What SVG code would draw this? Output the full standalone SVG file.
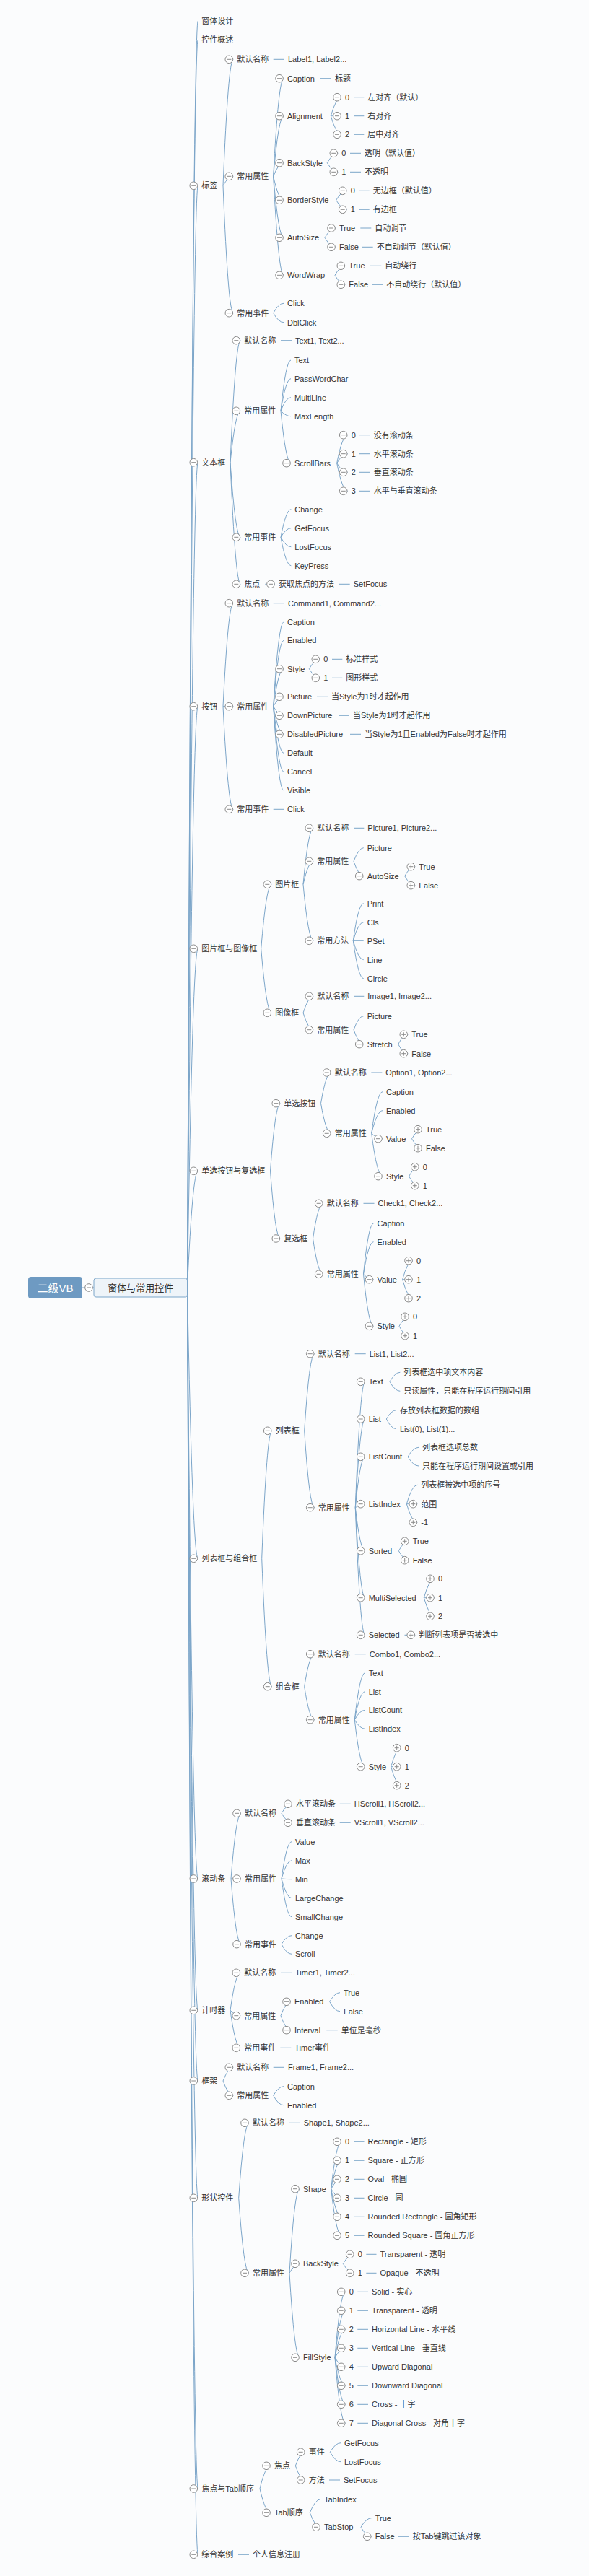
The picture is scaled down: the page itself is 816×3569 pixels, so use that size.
<svg xmlns="http://www.w3.org/2000/svg" width="816" height="3569" viewBox="0 0 816 3569">
<style>
.t{font-family:"Liberation Sans","Noto Sans CJK SC",sans-serif;font-size:11px;fill:#333;dominant-baseline:central}
.rt{font-family:"Liberation Sans","Noto Sans CJK SC",sans-serif;font-size:15px;fill:#fff;dominant-baseline:central}
.mt{font-family:"Liberation Sans","Noto Sans CJK SC",sans-serif;font-size:13px;fill:#333;dominant-baseline:central}
.c{fill:none;stroke:#7ba5c9;stroke-width:1}
.b{fill:#fff;stroke:#8a8a8a;stroke-width:1}
.bl{fill:none;stroke:#8a8a8a;stroke-width:1}
</style>
<defs>
<g id="m"><circle r="5.3" class="b"/><path d="M-3 0H3" class="bl"/></g>
<g id="p"><circle r="5.3" class="b"/><path d="M-3 0H3M0-3V3" class="bl"/></g>
</defs>
<rect width="816" height="3569" fill="#fbfcfd"/>
<g id="connectors">
<path class="c" d="M114 1784H130"/>
<path class="c" d="M259.5 1784Q266.9 29 274.3 29M259.5 1784Q266.9 55 274.3 55M259.5 1784Q266.9 257.3 274.3 257.3M259.5 1784Q266.9 640.7 274.3 640.7M259.5 1784Q266.9 978.7 274.3 978.7M259.5 1784Q266.9 1314.3 274.3 1314.3M259.5 1784Q266.9 1622.3 274.3 1622.3M259.5 1784Q266.9 2159.3 274.3 2159.3M259.5 1784Q266.9 2603 274.3 2603M259.5 1784Q266.9 2785.3 274.3 2785.3M259.5 1784Q266.9 2883 274.3 2883M259.5 1784Q266.9 3045.3 274.3 3045.3M259.5 1784Q266.9 3448 274.3 3448M259.5 1784Q266.9 3539.3 274.3 3539.3"/>
<!-- 标签 -->
<path class="c" d="M309 257.3Q316.2 82.3 323.3 82.3M309 257.3Q316.2 244.3 323.3 244.3M309 257.3Q316.2 433.7 323.3 433.7"/>
<path class="c" d="M378.7 82.3H394"/>
<path class="c" d="M378.7 244.3Q385.9 108.7 393 108.7M378.7 244.3Q385.9 160.7 393 160.7M378.7 244.3Q385.9 225.7 393 225.7M378.7 244.3Q385.9 277.3 393 277.3M378.7 244.3Q385.9 329.3 393 329.3M378.7 244.3Q385.9 381.3 393 381.3"/>
<path class="c" d="M443.5 108.7H459"/>
<path class="c" d="M458.3 160.7Q465.7 134.7 473 134.7M458.3 160.7H473M458.3 160.7Q465.7 186.3 473 186.3M490 134.7H504.3M490 160.7H504.3M490 186.3H504.3"/>
<path class="c" d="M453.3 225.7Q460.8 212.3 468.3 212.3M453.3 225.7Q460.8 238.3 468.3 238.3M485 212.3H500M485 238.3H500"/>
<path class="c" d="M465.7 277.3Q473.2 264.3 480.7 264.3M465.7 277.3Q473.2 290.3 480.7 290.3M497.7 264.3H511.7M497.7 290.3H511.7"/>
<path class="c" d="M450 329.3Q457.5 316 465 316M450 329.3Q457.5 342.3 465 342.3M499.3 316H514.3M501.7 342.3H516.7"/>
<path class="c" d="M464 381.3Q471.2 368.3 478.3 368.3M464 381.3Q471.2 394.3 478.3 394.3M513 368.3H528.3M515.3 394.3H530.3"/>
<path class="c" d="M378.7 433.7Q385.9 420.3 393 420.3M378.7 433.7Q385.9 446.7 393 446.7"/>
<!-- 文本框 -->
<path class="c" d="M319 640.7Q326.2 471.7 333.3 471.7M319 640.7Q326.2 569.3 333.3 569.3M319 640.7Q326.2 744.3 333.3 744.3M319 640.7Q326.2 809.3 333.3 809.3"/>
<path class="c" d="M389 471.7H404"/>
<path class="c" d="M389 569.3Q396 499 403 499M389 569.3Q396 524.7 403 524.7M389 569.3Q396 550.7 403 550.7M389 569.3Q396 576.7 403 576.7M389 569.3Q396 641.7 403 641.7"/>
<path class="c" d="M466.7 641.7Q474.2 602.7 481.7 602.7M466.7 641.7Q474.2 628.7 481.7 628.7M466.7 641.7Q474.2 654.3 481.7 654.3M466.7 641.7Q474.2 680.3 481.7 680.3M497.7 602.7H512.7M497.7 628.7H512.7M497.7 654.3H512.7M497.7 680.3H512.7"/>
<path class="c" d="M389 744.3Q396.2 705.7 403.3 705.7M389 744.3Q396.2 731.7 403.3 731.7M389 744.3Q396.2 757.7 403.3 757.7M389 744.3Q396.2 783.7 403.3 783.7"/>
<path class="c" d="M367.3 809.3H381M470 809.3H484.7"/>
<!-- 按钮 -->
<path class="c" d="M309 978.7Q316.2 835.7 323.3 835.7M309 978.7H323.3M309 978.7Q316.2 1121.3 323.3 1121.3"/>
<path class="c" d="M378.7 835.7H394"/>
<path class="c" d="M378.7 978.7Q385.9 861.7 393 861.7M378.7 978.7Q385.9 887.3 393 887.3M378.7 978.7Q385.9 926.7 393 926.7M378.7 978.7Q385.9 965.3 393 965.3M378.7 978.7Q385.9 991.3 393 991.3M378.7 978.7Q385.9 1017.3 393 1017.3M378.7 978.7Q385.9 1043.3 393 1043.3M378.7 978.7Q385.9 1069.3 393 1069.3M378.7 978.7Q385.9 1095.3 393 1095.3"/>
<path class="c" d="M428.3 926.7Q435.8 913.3 443.3 913.3M428.3 926.7Q435.8 939.3 443.3 939.3M460 913.3H474.3M460 939.3H474.3"/>
<path class="c" d="M439 965.3H454M469 991.3H484M485 1017.3H500"/>
<path class="c" d="M378.7 1121.3H393"/>
<!-- 图片框与图像框 -->
<path class="c" d="M361.7 1314.3Q369 1225.3 376.3 1225.3M361.7 1314.3Q369 1403.3 376.3 1403.3"/>
<path class="c" d="M420 1225.3Q427.2 1147.3 434.3 1147.3M420 1225.3Q427.2 1193.3 434.3 1193.3M420 1225.3Q427.2 1303.3 434.3 1303.3"/>
<path class="c" d="M490 1147.3H504.3"/>
<path class="c" d="M490 1193.3Q496.9 1174.7 503.7 1174.7M490 1193.3Q496.9 1213.7 503.7 1213.7"/>
<path class="c" d="M560.7 1213.7Q568 1200.7 575.3 1200.7M560.7 1213.7Q568 1226.7 575.3 1226.7"/>
<path class="c" d="M489.3 1303.3Q496.5 1251.7 503.7 1251.7M489.3 1303.3Q496.5 1277.7 503.7 1277.7M489.3 1303.3H503.7M489.3 1303.3Q496.5 1329.7 503.7 1329.7M489.3 1303.3Q496.5 1355.7 503.7 1355.7"/>
<path class="c" d="M420 1403.3Q427.2 1380.3 434.3 1380.3M420 1403.3Q427.2 1426.7 434.3 1426.7"/>
<path class="c" d="M490 1380.3H504.3"/>
<path class="c" d="M490 1426.7Q496.9 1407.7 503.7 1407.7M490 1426.7Q496.9 1446.7 503.7 1446.7"/>
<path class="c" d="M551.7 1446.7Q558.5 1433.3 565.3 1433.3M551.7 1446.7Q558.5 1459.7 565.3 1459.7"/>
<!-- 单选按钮与复选框 -->
<path class="c" d="M374.5 1622.3Q381.4 1528.7 388.3 1528.7M374.5 1622.3Q381.4 1716 388.3 1716"/>
<path class="c" d="M444.5 1528.7Q451.6 1486 458.7 1486M444.5 1528.7Q451.6 1570.3 458.7 1570.3"/>
<path class="c" d="M514.3 1486H529.3"/>
<path class="c" d="M514.7 1570.3Q522.4 1512.7 530 1512.7M514.7 1570.3Q522.4 1538.7 530 1538.7M514.7 1570.3Q522.4 1577.7 530 1577.7M514.7 1570.3Q522.4 1629.7 530 1629.7"/>
<path class="c" d="M570.5 1577.7Q577.8 1564.7 585 1564.7M570.5 1577.7Q577.8 1590.7 585 1590.7"/>
<path class="c" d="M566.5 1629.7Q573.7 1616.7 580.8 1616.7M566.5 1629.7Q573.7 1642.7 580.8 1642.7"/>
<path class="c" d="M433.5 1716Q440.6 1667.3 447.7 1667.3M433.5 1716Q440.6 1765.3 447.7 1765.3"/>
<path class="c" d="M503.5 1667.3H518.5"/>
<path class="c" d="M503.5 1765.3Q510.5 1695 517.5 1695M503.5 1765.3Q510.5 1720.7 517.5 1720.7M503.5 1765.3Q510.5 1772.7 517.5 1772.7M503.5 1765.3Q510.5 1837.3 517.5 1837.3"/>
<path class="c" d="M557.6 1772.7Q564.8 1746.7 572 1746.7M557.6 1772.7H572M557.6 1772.7Q564.8 1798.7 572 1798.7"/>
<path class="c" d="M553 1837.3Q560 1824.3 567 1824.3M553 1837.3Q560 1850.7 567 1850.7"/>
<!-- 列表框与组合框 -->
<path class="c" d="M362.7 2159.3Q369.7 1982.3 376.7 1982.3M362.7 2159.3Q369.7 2336.7 376.7 2336.7"/>
<path class="c" d="M421.7 1982.3Q428.7 1875.7 435.7 1875.7M421.7 1982.3Q428.7 2088.7 435.7 2088.7"/>
<path class="c" d="M491.7 1875.7H506.7"/>
<path class="c" d="M492.3 2088.7Q499 1914.3 505.7 1914.3M492.3 2088.7Q499 1966 505.7 1966M492.3 2088.7Q499 2018.3 505.7 2018.3M492.3 2088.7Q499 2083.7 505.7 2083.7M492.3 2088.7Q499 2148.7 505.7 2148.7M492.3 2088.7Q499 2213.7 505.7 2213.7M492.3 2088.7Q499 2265.3 505.7 2265.3"/>
<path class="c" d="M540 1914.3Q547.2 1901.3 554.3 1901.3M540 1914.3Q547.2 1927.3 554.3 1927.3"/>
<path class="c" d="M535.3 1966Q542.2 1953.7 549 1953.7M535.3 1966Q542.2 1979.7 549 1979.7"/>
<path class="c" d="M565 2018.3Q572.5 2005.3 580 2005.3M565 2018.3Q572.5 2031 580 2031"/>
<path class="c" d="M563.3 2083.7Q570.8 2057.3 578.3 2057.3M563.3 2083.7H578.3M563.3 2083.7Q570.8 2109.3 578.3 2109.3"/>
<path class="c" d="M552.3 2148.7Q559.5 2135.3 566.7 2135.3M552.3 2148.7Q559.5 2161.7 566.7 2161.7"/>
<path class="c" d="M587.3 2213.7Q594.7 2187.3 602 2187.3M587.3 2213.7H602M587.3 2213.7Q594.7 2239.3 602 2239.3"/>
<path class="c" d="M560.5 2265.3H575.3"/>
<path class="c" d="M421.7 2336.7Q428.7 2291.7 435.7 2291.7M421.7 2336.7Q428.7 2382.7 435.7 2382.7"/>
<path class="c" d="M491.7 2291.7H506.7"/>
<path class="c" d="M491.3 2382.7Q498.5 2317.7 505.7 2317.7M491.3 2382.7Q498.5 2343.7 505.7 2343.7M491.3 2382.7Q498.5 2369.3 505.7 2369.3M491.3 2382.7Q498.5 2395.3 505.7 2395.3M491.3 2382.7Q498.5 2447.7 505.7 2447.7"/>
<path class="c" d="M541.7 2447.7Q548.7 2421.7 555.7 2421.7M541.7 2447.7H555.7M541.7 2447.7Q548.7 2473.7 555.7 2473.7"/>
<!-- 滚动条 -->
<path class="c" d="M320 2603Q327 2512.3 334 2512.3M320 2603H334M320 2603Q327 2693.7 334 2693.7"/>
<path class="c" d="M390 2512.3Q397.5 2499.3 405 2499.3M390 2512.3Q397.5 2525.3 405 2525.3M470.7 2499.3H485.7M470.7 2525.3H485.7"/>
<path class="c" d="M390 2603Q397 2551.7 404 2551.7M390 2603Q397 2577.7 404 2577.7M390 2603Q397 2603.7 404 2603.7M390 2603Q397 2629.7 404 2629.7M390 2603Q397 2655.7 404 2655.7"/>
<path class="c" d="M390 2693.7Q397 2681.7 404 2681.7M390 2693.7Q397 2707.3 404 2707.3"/>
<!-- 计时器 -->
<path class="c" d="M319 2785.3Q326.2 2733.3 333.3 2733.3M319 2785.3Q326.2 2792.7 333.3 2792.7M319 2785.3Q326.2 2837.3 333.3 2837.3"/>
<path class="c" d="M389 2733.3H404"/>
<path class="c" d="M389 2792.7Q396 2773.3 403 2773.3M389 2792.7Q396 2812.7 403 2812.7"/>
<path class="c" d="M456.7 2773.3Q463.9 2760.7 471 2760.7M456.7 2773.3Q463.9 2786.7 471 2786.7"/>
<path class="c" d="M452.3 2812.7H467.7M388.3 2837.3H403.3"/>
<!-- 框架 -->
<path class="c" d="M309 2883Q316.2 2864.3 323.3 2864.3M309 2883Q316.2 2903.3 323.3 2903.3"/>
<path class="c" d="M378.7 2864.3H394"/>
<path class="c" d="M378.7 2903.3Q385.9 2890.7 393 2890.7M378.7 2903.3Q385.9 2916.7 393 2916.7"/>
<!-- 形状控件 -->
<path class="c" d="M330.7 3045.3Q337.9 2941.3 345 2941.3M330.7 3045.3Q337.9 3149.3 345 3149.3"/>
<path class="c" d="M401 2941.3H415.7"/>
<path class="c" d="M401 3149.3Q408 3032.7 415 3032.7M401 3149.3Q408 3136.3 415 3136.3M401 3149.3Q408 3266.3 415 3266.3"/>
<path class="c" d="M458.7 3032.7Q465.9 2967.3 473 2967.3M458.7 3032.7Q465.9 2993.3 473 2993.3M458.7 3032.7Q465.9 3019.3 473 3019.3M458.7 3032.7Q465.9 3045.3 473 3045.3M458.7 3032.7Q465.9 3071.3 473 3071.3M458.7 3032.7Q465.9 3097.3 473 3097.3"/>
<path class="c" d="M490 2967.3H504.5M490 2993.3H504.5M490 3019.3H504.5M490 3045.3H504.5M490 3071.3H504.5M490 3097.3H504.5"/>
<path class="c" d="M475.3 3136.3Q483 3123.3 490.7 3123.3M475.3 3136.3Q483 3149.3 490.7 3149.3M507.3 3123.3H521.5M507.3 3149.3H521.5"/>
<path class="c" d="M464 3266.3Q471.4 3175.3 478.7 3175.3M464 3266.3Q471.4 3201.3 478.7 3201.3M464 3266.3Q471.4 3227.3 478.7 3227.3M464 3266.3Q471.4 3253.3 478.7 3253.3M464 3266.3Q471.4 3279.3 478.7 3279.3M464 3266.3Q471.4 3305.3 478.7 3305.3M464 3266.3Q471.4 3331.3 478.7 3331.3M464 3266.3Q471.4 3357.3 478.7 3357.3"/>
<path class="c" d="M495.3 3175.3H510M495.3 3201.3H510M495.3 3227.3H510M495.3 3253.3H510M495.3 3279.3H510M495.3 3305.3H510M495.3 3331.3H510M495.3 3357.3H510"/>
<!-- 焦点与Tab顺序 -->
<path class="c" d="M360 3448Q367.5 3416.3 375 3416.3M360 3448Q367.5 3481.3 375 3481.3"/>
<path class="c" d="M409.3 3416.3Q416 3397.3 422.7 3397.3M409.3 3416.3Q416 3436 422.7 3436"/>
<path class="c" d="M457.3 3397.3Q464.7 3384.7 472 3384.7M457.3 3397.3Q464.7 3410.7 472 3410.7M456 3436H471"/>
<path class="c" d="M429.3 3481.3Q436.7 3462.7 444 3462.7M429.3 3481.3Q436.7 3501.3 444 3501.3"/>
<path class="c" d="M500 3501.3Q507.4 3488.7 514.7 3488.7M500 3501.3Q507.4 3514.3 514.7 3514.3M551.7 3514.3H566.7"/>
<path class="c" d="M330 3539.3H345"/>
</g>

<g id="root"><rect x="39" y="1769" width="75" height="30" rx="4" fill="#6e9ac2"/><text class="rt" x="76.5" y="1784" text-anchor="middle">二级VB</text></g>
<g id="main"><use href="#m" x="123" y="1784"/><rect x="130" y="1771" width="129.5" height="26" rx="3" fill="#eef4f9" stroke="#7ba5c9"/><text class="mt" x="194.7" y="1784" text-anchor="middle">窗体与常用控件</text></g>

<g id="n1"><text class="t" x="279.3" y="29">窗体设计</text></g>
<g id="n2"><text class="t" x="279.3" y="55">控件概述</text></g>

<g id="n3">
<g id="n3-0"><use href="#m" x="268.3" y="257.3"/><text class="t" x="279.3" y="257.3">标签</text></g>
<g id="n3a"><use href="#m" x="317.3" y="82.3"/><text class="t" x="328.3" y="82.3">默认名称</text><text class="t" x="399" y="82.3">Label1, Label2...</text></g>
<g id="n3b"><use href="#m" x="317.3" y="244.3"/><text class="t" x="328.3" y="244.3">常用属性</text></g>
<g id="n3b1"><use href="#m" x="387" y="108.7"/><text class="t" x="398" y="108.7">Caption</text><text class="t" x="464" y="108.7">标题</text></g>
<g id="n3b2"><use href="#m" x="387" y="160.7"/><text class="t" x="398" y="160.7">Alignment</text>
<use href="#m" x="467" y="134.7"/><text class="t" x="478" y="134.7">0</text><text class="t" x="509.3" y="134.7">左对齐（默认）</text>
<use href="#m" x="467" y="160.7"/><text class="t" x="478" y="160.7">1</text><text class="t" x="509.3" y="160.7">右对齐</text>
<use href="#m" x="467" y="186.3"/><text class="t" x="478" y="186.3">2</text><text class="t" x="509.3" y="186.3">居中对齐</text></g>
<g id="n3b3"><use href="#m" x="387" y="225.7"/><text class="t" x="398" y="225.7">BackStyle</text>
<use href="#m" x="462.3" y="212.3"/><text class="t" x="473.3" y="212.3">0</text><text class="t" x="505" y="212.3">透明（默认值）</text>
<use href="#m" x="462.3" y="238.3"/><text class="t" x="473.3" y="238.3">1</text><text class="t" x="505" y="238.3">不透明</text></g>
<g id="n3b4"><use href="#m" x="387" y="277.3"/><text class="t" x="398" y="277.3">BorderStyle</text>
<use href="#m" x="474.7" y="264.3"/><text class="t" x="485.7" y="264.3">0</text><text class="t" x="516.7" y="264.3">无边框（默认值）</text>
<use href="#m" x="474.7" y="290.3"/><text class="t" x="485.7" y="290.3">1</text><text class="t" x="516.7" y="290.3">有边框</text></g>
<g id="n3b5"><use href="#m" x="387" y="329.3"/><text class="t" x="398" y="329.3">AutoSize</text>
<use href="#m" x="459" y="316"/><text class="t" x="470" y="316">True</text><text class="t" x="519.3" y="316">自动调节</text>
<use href="#m" x="459" y="342.3"/><text class="t" x="470" y="342.3">False</text><text class="t" x="521.7" y="342.3">不自动调节（默认值）</text></g>
<g id="n3b6"><use href="#m" x="387" y="381.3"/><text class="t" x="398" y="381.3">WordWrap</text>
<use href="#m" x="472.3" y="368.3"/><text class="t" x="483.3" y="368.3">True</text><text class="t" x="533.3" y="368.3">自动绕行</text>
<use href="#m" x="472.3" y="394.3"/><text class="t" x="483.3" y="394.3">False</text><text class="t" x="535.3" y="394.3">不自动绕行（默认值）</text></g>
<g id="n3c"><use href="#m" x="317.3" y="433.7"/><text class="t" x="328.3" y="433.7">常用事件</text><text class="t" x="398" y="420.3">Click</text><text class="t" x="398" y="446.7">DblClick</text></g>
</g>

<g id="n4">
<g id="n4-0"><use href="#m" x="268.3" y="640.7"/><text class="t" x="279.3" y="640.7">文本框</text></g>
<g id="n4a"><use href="#m" x="327.3" y="471.7"/><text class="t" x="338.3" y="471.7">默认名称</text><text class="t" x="409" y="471.7">Text1, Text2...</text></g>
<g id="n4b"><use href="#m" x="327.3" y="569.3"/><text class="t" x="338.3" y="569.3">常用属性</text>
<text class="t" x="408" y="499">Text</text><text class="t" x="408" y="524.7">PassWordChar</text><text class="t" x="408" y="550.7">MultiLine</text><text class="t" x="408" y="576.7">MaxLength</text></g>
<g id="n4b5"><use href="#m" x="397" y="641.7"/><text class="t" x="408" y="641.7">ScrollBars</text>
<use href="#m" x="475.7" y="602.7"/><text class="t" x="486.7" y="602.7">0</text><text class="t" x="517.7" y="602.7">没有滚动条</text>
<use href="#m" x="475.7" y="628.7"/><text class="t" x="486.7" y="628.7">1</text><text class="t" x="517.7" y="628.7">水平滚动条</text>
<use href="#m" x="475.7" y="654.3"/><text class="t" x="486.7" y="654.3">2</text><text class="t" x="517.7" y="654.3">垂直滚动条</text>
<use href="#m" x="475.7" y="680.3"/><text class="t" x="486.7" y="680.3">3</text><text class="t" x="517.7" y="680.3">水平与垂直滚动条</text></g>
<g id="n4c"><use href="#m" x="327.3" y="744.3"/><text class="t" x="338.3" y="744.3">常用事件</text>
<text class="t" x="408.3" y="705.7">Change</text><text class="t" x="408.3" y="731.7">GetFocus</text><text class="t" x="408.3" y="757.7">LostFocus</text><text class="t" x="408.3" y="783.7">KeyPress</text></g>
<g id="n4d"><use href="#m" x="327.3" y="809.3"/><text class="t" x="338.3" y="809.3">焦点</text>
<use href="#m" x="375" y="809.3"/><text class="t" x="386" y="809.3">获取焦点的方法</text><text class="t" x="489.7" y="809.3">SetFocus</text></g>
</g>

<g id="n5">
<g id="n5-0"><use href="#m" x="268.3" y="978.7"/><text class="t" x="279.3" y="978.7">按钮</text></g>
<g id="n5a"><use href="#m" x="317.3" y="835.7"/><text class="t" x="328.3" y="835.7">默认名称</text><text class="t" x="399" y="835.7">Command1, Command2...</text></g>
<g id="n5b"><use href="#m" x="317.3" y="978.7"/><text class="t" x="328.3" y="978.7">常用属性</text>
<text class="t" x="398" y="861.7">Caption</text><text class="t" x="398" y="887.3">Enabled</text>
<use href="#m" x="387" y="926.7"/><text class="t" x="398" y="926.7">Style</text>
<use href="#m" x="437.3" y="913.3"/><text class="t" x="448.3" y="913.3">0</text><text class="t" x="479.3" y="913.3">标准样式</text>
<use href="#m" x="437.3" y="939.3"/><text class="t" x="448.3" y="939.3">1</text><text class="t" x="479.3" y="939.3">图形样式</text>
<use href="#m" x="387" y="965.3"/><text class="t" x="398" y="965.3">Picture</text><text class="t" x="459" y="965.3">当Style为1时才起作用</text>
<use href="#m" x="387" y="991.3"/><text class="t" x="398" y="991.3">DownPicture</text><text class="t" x="489" y="991.3">当Style为1时才起作用</text>
<use href="#m" x="387" y="1017.3"/><text class="t" x="398" y="1017.3">DisabledPicture</text><text class="t" x="505" y="1017.3">当Style为1且Enabled为False时才起作用</text>
<text class="t" x="398" y="1043.3">Default</text><text class="t" x="398" y="1069.3">Cancel</text><text class="t" x="398" y="1095.3">Visible</text></g>
<g id="n5c"><use href="#m" x="317.3" y="1121.3"/><text class="t" x="328.3" y="1121.3">常用事件</text><text class="t" x="398" y="1121.3">Click</text></g>
</g>

<g id="n6">
<g id="n6-0"><use href="#m" x="268.3" y="1314.3"/><text class="t" x="279.3" y="1314.3">图片框与图像框</text></g>
<g id="n6a"><use href="#m" x="370.3" y="1225.3"/><text class="t" x="381.3" y="1225.3">图片框</text>
<use href="#m" x="428.3" y="1147.3"/><text class="t" x="439.3" y="1147.3">默认名称</text><text class="t" x="509.3" y="1147.3">Picture1, Picture2...</text>
<use href="#m" x="428.3" y="1193.3"/><text class="t" x="439.3" y="1193.3">常用属性</text>
<text class="t" x="508.7" y="1174.7">Picture</text>
<use href="#m" x="497.7" y="1213.7"/><text class="t" x="508.7" y="1213.7">AutoSize</text>
<use href="#p" x="569.3" y="1200.7"/><text class="t" x="580.3" y="1200.7">True</text>
<use href="#p" x="569.3" y="1226.7"/><text class="t" x="580.3" y="1226.7">False</text>
<use href="#m" x="428.3" y="1303.3"/><text class="t" x="439.3" y="1303.3">常用方法</text>
<text class="t" x="508.7" y="1251.7">Print</text><text class="t" x="508.7" y="1277.7">Cls</text><text class="t" x="508.7" y="1303.7">PSet</text><text class="t" x="508.7" y="1329.7">Line</text><text class="t" x="508.7" y="1355.7">Circle</text></g>
<g id="n6b"><use href="#m" x="370.3" y="1403.3"/><text class="t" x="381.3" y="1403.3">图像框</text>
<use href="#m" x="428.3" y="1380.3"/><text class="t" x="439.3" y="1380.3">默认名称</text><text class="t" x="509.3" y="1380.3">Image1, Image2...</text>
<use href="#m" x="428.3" y="1426.7"/><text class="t" x="439.3" y="1426.7">常用属性</text>
<text class="t" x="508.7" y="1407.7">Picture</text>
<use href="#m" x="497.7" y="1446.7"/><text class="t" x="508.7" y="1446.7">Stretch</text>
<use href="#p" x="559.3" y="1433.3"/><text class="t" x="570.3" y="1433.3">True</text>
<use href="#p" x="559.3" y="1459.7"/><text class="t" x="570.3" y="1459.7">False</text></g>
</g>

<g id="n7">
<g id="n7-0"><use href="#m" x="268.3" y="1622.3"/><text class="t" x="279.3" y="1622.3">单选按钮与复选框</text></g>
<g id="n7a"><use href="#m" x="382.3" y="1528.7"/><text class="t" x="393.3" y="1528.7">单选按钮</text>
<use href="#m" x="452.7" y="1486"/><text class="t" x="463.7" y="1486">默认名称</text><text class="t" x="534.3" y="1486">Option1, Option2...</text>
<use href="#m" x="452.7" y="1570.3"/><text class="t" x="463.7" y="1570.3">常用属性</text>
<text class="t" x="535" y="1512.7">Caption</text><text class="t" x="535" y="1538.7">Enabled</text>
<use href="#m" x="524" y="1577.7"/><text class="t" x="535" y="1577.7">Value</text>
<use href="#p" x="579" y="1564.7"/><text class="t" x="590" y="1564.7">True</text>
<use href="#p" x="579" y="1590.7"/><text class="t" x="590" y="1590.7">False</text>
<use href="#m" x="524" y="1629.7"/><text class="t" x="535" y="1629.7">Style</text>
<use href="#p" x="574.8" y="1616.7"/><text class="t" x="585.8" y="1616.7">0</text>
<use href="#p" x="574.8" y="1642.7"/><text class="t" x="585.8" y="1642.7">1</text></g>
<g id="n7b"><use href="#m" x="382.3" y="1716"/><text class="t" x="393.3" y="1716">复选框</text>
<use href="#m" x="441.7" y="1667.3"/><text class="t" x="452.7" y="1667.3">默认名称</text><text class="t" x="523.5" y="1667.3">Check1, Check2...</text>
<use href="#m" x="441.7" y="1765.3"/><text class="t" x="452.7" y="1765.3">常用属性</text>
<text class="t" x="522.5" y="1695">Caption</text><text class="t" x="522.5" y="1720.7">Enabled</text>
<use href="#m" x="511.5" y="1772.7"/><text class="t" x="522.5" y="1772.7">Value</text>
<use href="#p" x="566" y="1746.7"/><text class="t" x="577" y="1746.7">0</text>
<use href="#p" x="566" y="1772.7"/><text class="t" x="577" y="1772.7">1</text>
<use href="#p" x="566" y="1798.7"/><text class="t" x="577" y="1798.7">2</text>
<use href="#m" x="511.5" y="1837.3"/><text class="t" x="522.5" y="1837.3">Style</text>
<use href="#p" x="561" y="1824.3"/><text class="t" x="572" y="1824.3">0</text>
<use href="#p" x="561" y="1850.7"/><text class="t" x="572" y="1850.7">1</text></g>
</g>

<g id="n8">
<g id="n8-0"><use href="#m" x="268.3" y="2159.3"/><text class="t" x="279.3" y="2159.3">列表框与组合框</text></g>
<g id="n8a"><use href="#m" x="370.7" y="1982.3"/><text class="t" x="381.7" y="1982.3">列表框</text>
<use href="#m" x="429.7" y="1875.7"/><text class="t" x="440.7" y="1875.7">默认名称</text><text class="t" x="511.7" y="1875.7">List1, List2...</text>
<use href="#m" x="429.7" y="2088.7"/><text class="t" x="440.7" y="2088.7">常用属性</text>
<use href="#m" x="499.7" y="1914.3"/><text class="t" x="510.7" y="1914.3">Text</text>
<text class="t" x="559.3" y="1901.3">列表框选中项文本内容</text><text class="t" x="559.3" y="1927.3">只读属性，只能在程序运行期间引用</text>
<use href="#m" x="499.7" y="1966"/><text class="t" x="510.7" y="1966">List</text>
<text class="t" x="554" y="1953.7">存放列表框数据的数组</text><text class="t" x="554" y="1979.7">List(0), List(1)...</text>
<use href="#m" x="499.7" y="2018.3"/><text class="t" x="510.7" y="2018.3">ListCount</text>
<text class="t" x="585" y="2005.3">列表框选项总数</text><text class="t" x="585" y="2031">只能在程序运行期间设置或引用</text>
<use href="#m" x="499.7" y="2083.7"/><text class="t" x="510.7" y="2083.7">ListIndex</text>
<text class="t" x="583.3" y="2057.3">列表框被选中项的序号</text>
<use href="#p" x="572.3" y="2083.7"/><text class="t" x="583.3" y="2083.7">范围</text>
<use href="#p" x="572.3" y="2109.3"/><text class="t" x="583.3" y="2109.3">-1</text>
<use href="#m" x="499.7" y="2148.7"/><text class="t" x="510.7" y="2148.7">Sorted</text>
<use href="#p" x="560.7" y="2135.3"/><text class="t" x="571.7" y="2135.3">True</text>
<use href="#p" x="560.7" y="2161.7"/><text class="t" x="571.7" y="2161.7">False</text>
<use href="#m" x="499.7" y="2213.7"/><text class="t" x="510.7" y="2213.7">MultiSelected</text>
<use href="#p" x="596" y="2187.3"/><text class="t" x="607" y="2187.3">0</text>
<use href="#p" x="596" y="2213.7"/><text class="t" x="607" y="2213.7">1</text>
<use href="#p" x="596" y="2239.3"/><text class="t" x="607" y="2239.3">2</text>
<use href="#m" x="499.7" y="2265.3"/><text class="t" x="510.7" y="2265.3">Selected</text>
<use href="#p" x="569.3" y="2265.3"/><text class="t" x="580.3" y="2265.3">判断列表项是否被选中</text></g>
<g id="n8b"><use href="#m" x="370.7" y="2336.7"/><text class="t" x="381.7" y="2336.7">组合框</text>
<use href="#m" x="429.7" y="2291.7"/><text class="t" x="440.7" y="2291.7">默认名称</text><text class="t" x="511.7" y="2291.7">Combo1, Combo2...</text>
<use href="#m" x="429.7" y="2382.7"/><text class="t" x="440.7" y="2382.7">常用属性</text>
<text class="t" x="510.7" y="2317.7">Text</text><text class="t" x="510.7" y="2343.7">List</text><text class="t" x="510.7" y="2369.3">ListCount</text><text class="t" x="510.7" y="2395.3">ListIndex</text>
<use href="#m" x="499.7" y="2447.7"/><text class="t" x="510.7" y="2447.7">Style</text>
<use href="#p" x="549.7" y="2421.7"/><text class="t" x="560.7" y="2421.7">0</text>
<use href="#p" x="549.7" y="2447.7"/><text class="t" x="560.7" y="2447.7">1</text>
<use href="#p" x="549.7" y="2473.7"/><text class="t" x="560.7" y="2473.7">2</text></g>
</g>

<g id="n9">
<g id="n9-0"><use href="#m" x="268.3" y="2603"/><text class="t" x="279.3" y="2603">滚动条</text></g>
<g id="n9a"><use href="#m" x="328" y="2512.3"/><text class="t" x="339" y="2512.3">默认名称</text>
<use href="#m" x="399" y="2499.3"/><text class="t" x="410" y="2499.3">水平滚动条</text><text class="t" x="490.7" y="2499.3">HScroll1, HScroll2...</text>
<use href="#m" x="399" y="2525.3"/><text class="t" x="410" y="2525.3">垂直滚动条</text><text class="t" x="490.7" y="2525.3">VScroll1, VScroll2...</text></g>
<g id="n9b"><use href="#m" x="328" y="2603"/><text class="t" x="339" y="2603">常用属性</text>
<text class="t" x="409" y="2551.7">Value</text><text class="t" x="409" y="2577.7">Max</text><text class="t" x="409" y="2603.7">Min</text><text class="t" x="409" y="2629.7">LargeChange</text><text class="t" x="409" y="2655.7">SmallChange</text></g>
<g id="n9c"><use href="#m" x="328" y="2693.7"/><text class="t" x="339" y="2693.7">常用事件</text>
<text class="t" x="409" y="2681.7">Change</text><text class="t" x="409" y="2707.3">Scroll</text></g>
</g>

<g id="n10">
<g id="n10-0"><use href="#m" x="268.3" y="2785.3"/><text class="t" x="279.3" y="2785.3">计时器</text></g>
<g id="n10a"><use href="#m" x="327.3" y="2733.3"/><text class="t" x="338.3" y="2733.3">默认名称</text><text class="t" x="409" y="2733.3">Timer1, Timer2...</text></g>
<g id="n10b"><use href="#m" x="327.3" y="2792.7"/><text class="t" x="338.3" y="2792.7">常用属性</text>
<use href="#m" x="397" y="2773.3"/><text class="t" x="408" y="2773.3">Enabled</text>
<text class="t" x="476" y="2760.7">True</text><text class="t" x="476" y="2786.7">False</text>
<use href="#m" x="397" y="2812.7"/><text class="t" x="408" y="2812.7">Interval</text><text class="t" x="472.7" y="2812.7">单位是毫秒</text></g>
<g id="n10c"><use href="#m" x="327.3" y="2837.3"/><text class="t" x="338.3" y="2837.3">常用事件</text><text class="t" x="408.3" y="2837.3">Timer事件</text></g>
</g>

<g id="n11">
<g id="n11-0"><use href="#m" x="268.3" y="2883"/><text class="t" x="279.3" y="2883">框架</text></g>
<g id="n11a"><use href="#m" x="317.3" y="2864.3"/><text class="t" x="328.3" y="2864.3">默认名称</text><text class="t" x="399" y="2864.3">Frame1, Frame2...</text></g>
<g id="n11b"><use href="#m" x="317.3" y="2903.3"/><text class="t" x="328.3" y="2903.3">常用属性</text>
<text class="t" x="398" y="2890.7">Caption</text><text class="t" x="398" y="2916.7">Enabled</text></g>
</g>

<g id="n12">
<g id="n12-0"><use href="#m" x="268.3" y="3045.3"/><text class="t" x="279.3" y="3045.3">形状控件</text></g>
<g id="n12a"><use href="#m" x="339" y="2941.3"/><text class="t" x="350" y="2941.3">默认名称</text><text class="t" x="420.7" y="2941.3">Shape1, Shape2...</text></g>
<g id="n12b"><use href="#m" x="339" y="3149.3"/><text class="t" x="350" y="3149.3">常用属性</text></g>
<g id="n12b1"><use href="#m" x="409" y="3032.7"/><text class="t" x="420" y="3032.7">Shape</text>
<use href="#m" x="467" y="2967.3"/><text class="t" x="478" y="2967.3">0</text><text class="t" x="509.5" y="2967.3">Rectangle - 矩形</text>
<use href="#m" x="467" y="2993.3"/><text class="t" x="478" y="2993.3">1</text><text class="t" x="509.5" y="2993.3">Square - 正方形</text>
<use href="#m" x="467" y="3019.3"/><text class="t" x="478" y="3019.3">2</text><text class="t" x="509.5" y="3019.3">Oval - 椭圆</text>
<use href="#m" x="467" y="3045.3"/><text class="t" x="478" y="3045.3">3</text><text class="t" x="509.5" y="3045.3">Circle - 圆</text>
<use href="#m" x="467" y="3071.3"/><text class="t" x="478" y="3071.3">4</text><text class="t" x="509.5" y="3071.3">Rounded Rectangle - 圆角矩形</text>
<use href="#m" x="467" y="3097.3"/><text class="t" x="478" y="3097.3">5</text><text class="t" x="509.5" y="3097.3">Rounded Square - 圆角正方形</text></g>
<g id="n12b2"><use href="#m" x="409" y="3136.3"/><text class="t" x="420" y="3136.3">BackStyle</text>
<use href="#m" x="484.7" y="3123.3"/><text class="t" x="495.7" y="3123.3">0</text><text class="t" x="526.5" y="3123.3">Transparent - 透明</text>
<use href="#m" x="484.7" y="3149.3"/><text class="t" x="495.7" y="3149.3">1</text><text class="t" x="526.5" y="3149.3">Opaque - 不透明</text></g>
<g id="n12b3"><use href="#m" x="409" y="3266.3"/><text class="t" x="420" y="3266.3">FillStyle</text>
<use href="#m" x="472.7" y="3175.3"/><text class="t" x="483.7" y="3175.3">0</text><text class="t" x="515" y="3175.3">Solid - 实心</text>
<use href="#m" x="472.7" y="3201.3"/><text class="t" x="483.7" y="3201.3">1</text><text class="t" x="515" y="3201.3">Transparent - 透明</text>
<use href="#m" x="472.7" y="3227.3"/><text class="t" x="483.7" y="3227.3">2</text><text class="t" x="515" y="3227.3">Horizontal Line - 水平线</text>
<use href="#m" x="472.7" y="3253.3"/><text class="t" x="483.7" y="3253.3">3</text><text class="t" x="515" y="3253.3">Vertical Line - 垂直线</text>
<use href="#m" x="472.7" y="3279.3"/><text class="t" x="483.7" y="3279.3">4</text><text class="t" x="515" y="3279.3">Upward Diagonal</text>
<use href="#m" x="472.7" y="3305.3"/><text class="t" x="483.7" y="3305.3">5</text><text class="t" x="515" y="3305.3">Downward Diagonal</text>
<use href="#m" x="472.7" y="3331.3"/><text class="t" x="483.7" y="3331.3">6</text><text class="t" x="515" y="3331.3">Cross - 十字</text>
<use href="#m" x="472.7" y="3357.3"/><text class="t" x="483.7" y="3357.3">7</text><text class="t" x="515" y="3357.3">Diagonal Cross - 对角十字</text></g>
</g>

<g id="n13">
<g id="n13-0"><use href="#m" x="268.3" y="3448"/><text class="t" x="279.3" y="3448">焦点与Tab顺序</text></g>
<g id="n13a"><use href="#m" x="369" y="3416.3"/><text class="t" x="380" y="3416.3">焦点</text>
<use href="#m" x="416.7" y="3397.3"/><text class="t" x="427.7" y="3397.3">事件</text>
<text class="t" x="477" y="3384.7">GetFocus</text><text class="t" x="477" y="3410.7">LostFocus</text>
<use href="#m" x="416.7" y="3436"/><text class="t" x="427.7" y="3436">方法</text><text class="t" x="476" y="3436">SetFocus</text></g>
<g id="n13b"><use href="#m" x="369" y="3481.3"/><text class="t" x="380" y="3481.3">Tab顺序</text>
<text class="t" x="449" y="3462.7">TabIndex</text>
<use href="#m" x="438" y="3501.3"/><text class="t" x="449" y="3501.3">TabStop</text>
<text class="t" x="519.7" y="3488.7">True</text>
<use href="#m" x="508.7" y="3514.3"/><text class="t" x="519.7" y="3514.3">False</text><text class="t" x="571.7" y="3514.3">按Tab键跳过该对象</text></g>
</g>

<g id="n14"><use href="#m" x="268.3" y="3539.3"/><text class="t" x="279.3" y="3539.3">综合案例</text><text class="t" x="350" y="3539.3">个人信息注册</text></g>
</svg>
